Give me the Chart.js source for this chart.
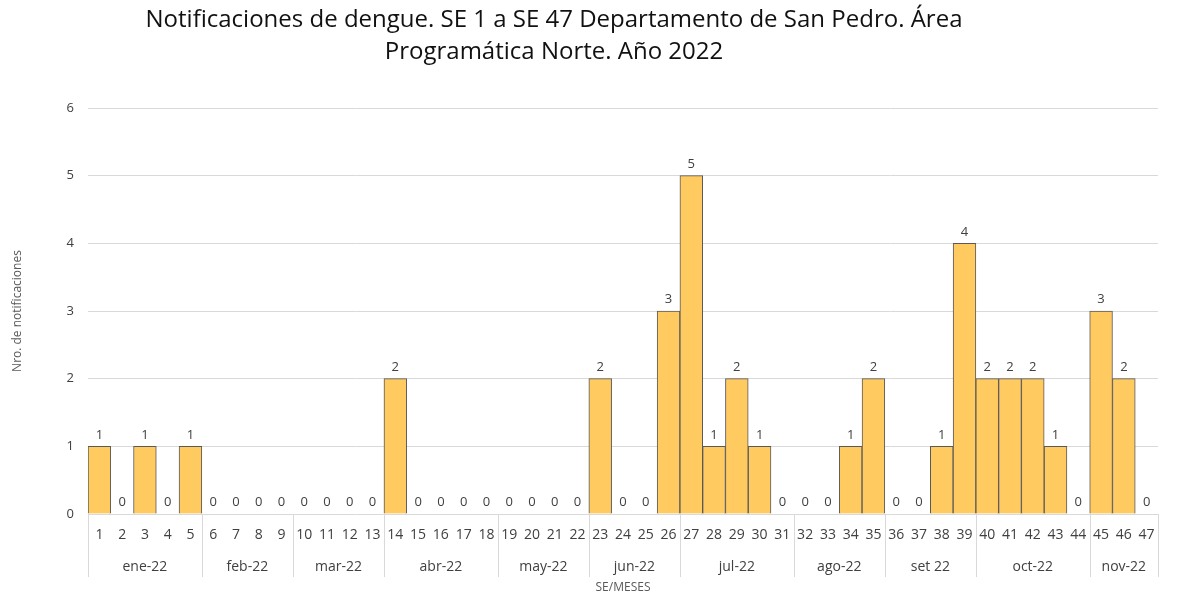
<!DOCTYPE html>
<html>
<head>
<meta charset="utf-8">
<script src="https://cdn.jsdelivr.net/npm/chart.js@4/dist/chart.umd.min.js"></script>
<style>
  html, body { margin: 0; padding: 0; background: #fff; }
  canvas { display: block; }
</style>
</head>
<body>
<canvas id="chart" width="1182" height="597"></canvas>
<script>
const semanas = ['1','2','3','4','5','6','7','8','9','10','11','12','13','14','15','16','17','18','19','20','21','22','23','24','25','26','27','28','29','30','31','32','33','34','35','36','37','38','39','40','41','42','43','44','45','46','47'];
const notificaciones = [1,0,1,0,1,0,0,0,0,0,0,0,0,2,0,0,0,0,0,0,0,0,2,0,0,3,5,1,2,1,0,0,0,1,2,0,0,1,4,2,2,2,1,0,3,2,0];
const meses = ['ene-22','feb-22','mar-22','abr-22','may-22','jun-22','jul-22','ago-22','set 22','oct-22','nov-22'];
const semanasPorMes = [5,4,4,5,4,4,5,4,4,5,3];
const tituloLineas = ['Notificaciones de dengue. SE 1 a SE 47 Departamento de San Pedro. Área', 'Programática Norte. Año 2022'];

const FONT = "'Open Sans', 'Noto Sans', sans-serif";

// title, drawn a bit left of centre like the original
const titlePlugin = {
  id: 'titulo',
  afterDraw(chart) {
    const ctx = chart.ctx;
    ctx.save();
    ctx.fillStyle = '#111';
    ctx.font = '24px ' + FONT;
    ctx.textAlign = 'center';
    ctx.textBaseline = 'middle';
    tituloLineas.forEach((t, i) => ctx.fillText(t, 554, 20 + i * 32));
    ctx.restore();
  }
};

// value labels on top of each bar
const valueLabels = {
  id: 'valueLabels',
  afterDatasetsDraw(chart) {
    const ctx = chart.ctx;
    const meta = chart.getDatasetMeta(0);
    ctx.save();
    ctx.fillStyle = '#404040';
    ctx.font = '13px ' + FONT;
    ctx.textAlign = 'center';
    ctx.textBaseline = 'bottom';
    meta.data.forEach((bar, i) => {
      ctx.fillText(String(notificaciones[i]), bar.x, bar.y - 5);
    });
    ctx.restore();
  }
};

// month row under the week numbers, with separators
const monthAxis = {
  id: 'monthAxis',
  afterDraw(chart) {
    const ctx = chart.ctx;
    const x = chart.scales.x;
    const area = chart.chartArea;
    const step = x.getPixelForValue(1) - x.getPixelForValue(0);
    ctx.save();
    ctx.strokeStyle = '#d9d9d9';
    ctx.lineWidth = 1;
    ctx.fillStyle = '#404040';
    ctx.font = '14px ' + FONT;
    ctx.textAlign = 'center';
    ctx.textBaseline = 'middle';
    let start = 0;
    const edges = [];
    semanasPorMes.forEach((n, m) => {
      const left = x.getPixelForValue(start) - step / 2;
      const right = x.getPixelForValue(start + n - 1) + step / 2;
      if (m === 0) edges.push(left);
      edges.push(right);
      ctx.fillText(meses[m], (left + right) / 2, area.bottom + 53);
      start += n;
    });
    edges.forEach(px => {
      const xx = Math.round(px) + 0.5;
      ctx.beginPath();
      ctx.moveTo(xx, area.bottom);
      ctx.lineTo(xx, area.bottom + 63);
      ctx.stroke();
    });
    ctx.restore();
  }
};

new Chart(document.getElementById('chart'), {
  type: 'bar',
  data: {
    labels: semanas,
    datasets: [{
      data: notificaciones,
      backgroundColor: '#ffca60',
      borderColor: '#595959',
      borderWidth: 1,
      categoryPercentage: 1,
      barPercentage: 1
    }]
  },
  options: {
    responsive: false,
    animation: false,
    layout: { padding: { top: 108, right: 24, bottom: 0, left: 0 } },
    plugins: {
      legend: { display: false },
      tooltip: { enabled: false }
    },
    scales: {
      x: {
        grid: { display: false, drawTicks: false },
        border: { display: false },
        ticks: { color: '#404040', font: { family: FONT, size: 14 }, padding: 13, maxRotation: 0, autoSkip: false },
        title: { display: true, text: 'SE/MESES', color: '#595959', font: { family: FONT, size: 12 }, padding: { top: 0, bottom: 2 } },
        afterFit(scale) { scale.height = 83; }
      },
      y: {
        min: 0,
        max: 6,
        ticks: { stepSize: 1, color: '#404040', font: { family: FONT, size: 13 }, padding: 14 },
        grid: { color: '#d9d9d9', drawTicks: false },
        border: { display: false },
        title: { display: true, text: 'Nro. de notificaciones', color: '#595959', font: { family: FONT, size: 12 }, padding: { top: 10, bottom: 0 } },
        afterFit(scale) { scale.width = 88; }
      }
    }
  },
  plugins: [titlePlugin, valueLabels, monthAxis]
});
</script>
</body>
</html>
